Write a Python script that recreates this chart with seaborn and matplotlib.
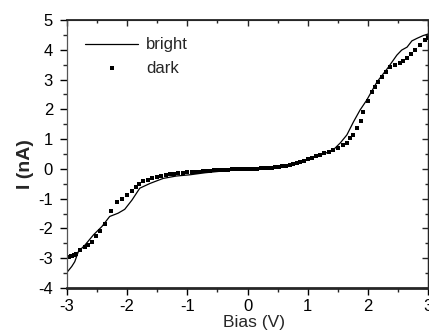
import numpy as np
import pandas as pd
import matplotlib
matplotlib.use("Agg")
import matplotlib.pyplot as plt
import seaborn as sns
from matplotlib.ticker import MultipleLocator

# bright (solid line)
bright_v = [-3.00, -2.92, -2.87, -2.81, -2.70, -2.56, -2.42, -2.29, -2.15, -2.04,
            -1.92, -1.79, -1.62, -1.40, -1.18, -0.96, -0.70, -0.40, 0.00, 0.30,
            0.60, 0.80, 1.00, 1.20, 1.42, 1.54, 1.65, 1.76, 1.87, 1.98,
            2.15, 2.33, 2.48, 2.56, 2.65, 2.73, 2.82, 2.92, 3.00]
bright_i = [-3.48, -3.28, -3.12, -2.78, -2.56, -2.22, -1.94, -1.60, -1.49, -1.36,
            -1.05, -0.65, -0.49, -0.32, -0.24, -0.20, -0.13, -0.07, 0.00, 0.03,
            0.10, 0.19, 0.32, 0.45, 0.63, 0.87, 1.14, 1.58, 1.98, 2.31,
            2.92, 3.39, 3.82, 3.99, 4.09, 4.30, 4.39, 4.48, 4.53]

# dark (dots)
dark_v = [-3.00, -2.97, -2.94, -2.91, -2.88, -2.85, -2.78, -2.70, -2.65, -2.59,
          -2.51, -2.45, -2.37, -2.26, -2.17, -2.09, -2.01, -1.92, -1.86, -1.81,
          -1.73, -1.65, -1.58, -1.51, -1.44, -1.36, -1.29, -1.22, -1.15, -1.07,
          -1.00, -0.93, -0.86, -0.80, -0.74, -0.68, -0.62, -0.56, -0.50, -0.44,
          -0.38, -0.32, -0.26, -0.20, -0.14, -0.08, -0.02, 0.04, 0.10, 0.16,
          0.22, 0.28, 0.34, 0.40, 0.46, 0.52, 0.58, 0.64, 0.70, 0.76,
          0.82, 0.87, 0.94, 1.00, 1.07, 1.13, 1.20, 1.27, 1.35, 1.42,
          1.50, 1.59, 1.65, 1.70, 1.76, 1.82, 1.88, 1.92, 2.00, 2.07,
          2.12, 2.17, 2.24, 2.30, 2.37, 2.45, 2.53, 2.59, 2.65, 2.72,
          2.78, 2.87, 2.95, 3.00]
dark_i = [-2.95, -2.95, -2.94, -2.93, -2.90, -2.86, -2.72, -2.61, -2.55, -2.45,
          -2.25, -2.08, -1.85, -1.42, -1.13, -1.02, -0.88, -0.76, -0.60, -0.50,
          -0.42, -0.36, -0.31, -0.27, -0.23, -0.20, -0.18, -0.16, -0.14, -0.13,
          -0.12, -0.11, -0.10, -0.09, -0.08, -0.07, -0.06, -0.05, -0.05, -0.04,
          -0.03, -0.03, -0.02, -0.01, -0.01, 0.00, 0.00, 0.00, 0.01, 0.01,
          0.02, 0.02, 0.03, 0.04, 0.05, 0.06, 0.08, 0.10, 0.12, 0.15,
          0.19, 0.23, 0.28, 0.32, 0.37, 0.42, 0.47, 0.52, 0.58, 0.63,
          0.70, 0.80, 0.88, 1.04, 1.14, 1.37, 1.61, 1.91, 2.28, 2.58,
          2.75, 2.92, 3.09, 3.25, 3.42, 3.49, 3.56, 3.63, 3.72, 3.86,
          3.99, 4.16, 4.33, 4.38]

bright = pd.DataFrame({"Bias": bright_v, "I": bright_i})
dark = pd.DataFrame({"Bias": dark_v, "I": dark_i})

sns.set_style("ticks")
plt.rcParams["font.family"] = ["Liberation Sans", "DejaVu Sans"]
plt.rcParams["axes.unicode_minus"] = False

fig = plt.figure(figsize=(4.29, 3.34), dpi=100)
ax = fig.add_axes([0.156, 0.138, 0.842, 0.802])

sns.lineplot(data=bright, x="Bias", y="I", sort=False, color="black",
             linewidth=0.9, ax=ax, label="bright")
sns.scatterplot(data=dark, x="Bias", y="I", color="black", marker="s",
                s=6, linewidth=0, ax=ax, label="dark")

ax.set_xlim(-3, 3)
ax.set_ylim(-4, 5)
ax.xaxis.set_major_locator(MultipleLocator(1))
ax.xaxis.set_minor_locator(MultipleLocator(0.5))
ax.yaxis.set_major_locator(MultipleLocator(1))
ax.yaxis.set_minor_locator(MultipleLocator(0.5))
ax.tick_params(which="major", direction="out", length=5, width=1,
               labelsize=12, colors="black")
ax.tick_params(which="minor", direction="out", length=3, width=1)
ax.tick_params(axis="x", pad=3)
ax.tick_params(axis="y", pad=5)

# mirrored ticks on top/right pointing inward
topax = ax.secondary_xaxis("top")
rightax = ax.secondary_yaxis("right")
topax.xaxis.set_major_locator(MultipleLocator(1))
topax.xaxis.set_minor_locator(MultipleLocator(0.5))
topax.set_xticklabels([])
rightax.yaxis.set_major_locator(MultipleLocator(1))
rightax.yaxis.set_minor_locator(MultipleLocator(0.5))
rightax.set_yticklabels([])
for sec in (topax, rightax):
    sec.tick_params(which="major", direction="in", length=4, width=1)
    sec.tick_params(which="minor", direction="in", length=2.5, width=1)
topax.spines["top"].set_linewidth(1.3)
rightax.spines["right"].set_linewidth(1.0)

ax.spines["bottom"].set_linewidth(2.0)
ax.spines["left"].set_linewidth(0.9)
ax.spines["left"].set_color("#555555")

ax.set_xlabel("Bias (V)", fontsize=12.5)
ax.xaxis.set_label_coords(0.517, -0.1)
ax.xaxis.label.set_verticalalignment("top")
ax.set_ylabel("I (nA)", fontsize=14, fontweight="bold")
ax.yaxis.set_label_coords(-0.09, 0.463)

leg = ax.legend(loc="upper left", bbox_to_anchor=(0.05, 0.935), frameon=False,
                fontsize=12, handlelength=3.2, handletextpad=0.45,
                labelspacing=0.5, borderaxespad=0, borderpad=0)

fig.savefig("out.png", dpi=100)
